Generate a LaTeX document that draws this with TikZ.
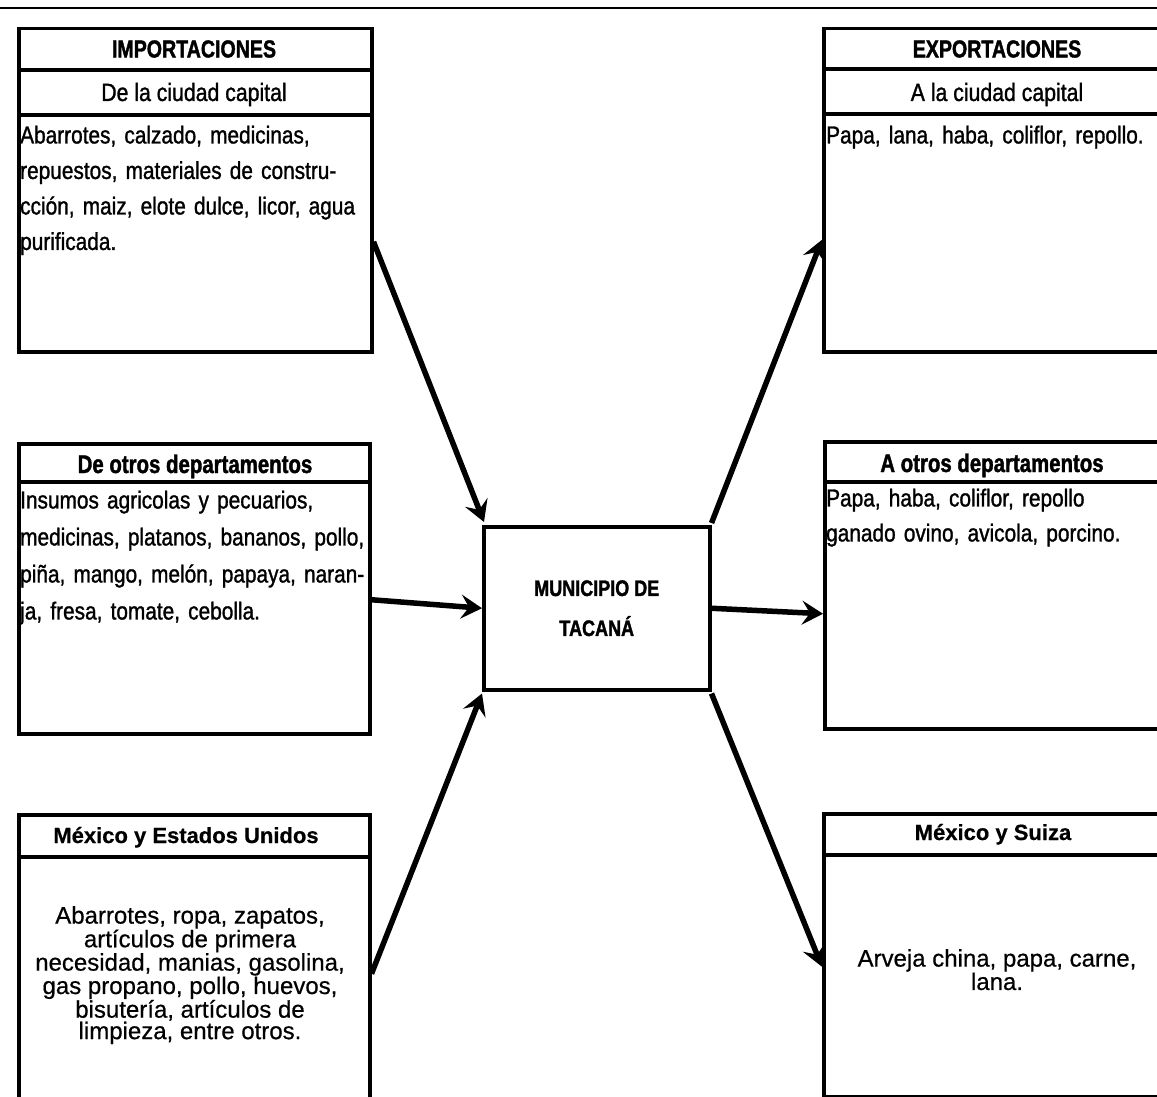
\documentclass[tikz,border=0pt]{standalone}
\usepackage{fontspec}
\setmainfont{Liberation Sans}
\newfontfamily\nrwfont[FakeStretch=0.85,FakeBold=1.2]{Liberation Sans}
\newfontfamily\hdrfont[FakeStretch=0.8,FakeBold=1.5]{Liberation Sans}
\newfontfamily\btmfont[FakeBold=0.6]{Liberation Sans}
\usetikzlibrary{arrows.meta,calc}
\begin{document}
\begin{tikzpicture}[x=1pt,y=-1pt,
  frame/.style={draw, line width=3.5pt, inner sep=0pt, anchor=north west},
  rule/.style={line width=3.5pt},
  flow/.style={line width=5.5pt, -{Stealth[length=21pt,width=24pt,inset=8pt]}},
  hd/.style={inner sep=0pt, font=\hdrfont\bfseries\fontsize{24.5}{28}\selectfont},
  subhd/.style={inner sep=0pt, anchor=base, font=\nrwfont\fontsize{25}{28}\selectfont},
  subhdb/.style={inner sep=0pt, anchor=base, font=\hdrfont\bfseries\fontsize{25.5}{28}\selectfont},
  arialhd/.style={inner sep=0pt, anchor=base, font=\btmfont\bfseries\fontsize{22}{26}\selectfont},
  bodyl/.style={inner sep=0pt, anchor=north west, align=left, text width=345pt},
  bodyc/.style={inner sep=0pt, anchor=north, align=center, font=\btmfont\fontsize{24}{20.3}\selectfont},
]
\path[use as bounding box, fill=white] (0,0) rectangle (1157,1097);

% top rule
\draw[line width=2pt] (0,8) -- (1157,8);

% boxes
\node[frame, minimum width=353pt, minimum height=323pt] (tl) at (17,27) {};
\node[frame, minimum width=348pt, minimum height=323pt] (tr) at (822,27) {};
\node[frame, minimum width=351pt, minimum height=290pt] (ml) at (17,442) {};
\node[frame, minimum width=347pt, minimum height=287pt] (mr) at (823,440) {};
\node[frame, minimum width=351pt, minimum height=290pt] (bl) at (17,813) {};
\node[frame, minimum width=348pt, minimum height=283pt] (br) at (822,812) {};
\node[frame, minimum width=226pt, minimum height=163pt, align=center,
      font=\hdrfont\bfseries\fontsize{22.5}{40}\selectfont] (ctr) at (482,525) {MUNICIPIO DE\\TACANÁ};

% dividers
\draw[rule] ([yshift=-43pt]tl.north west) -- ([yshift=-43pt]tl.north east);
\draw[rule] ([yshift=-88pt]tl.north west) -- ([yshift=-88pt]tl.north east);
\draw[rule] ([yshift=-42pt]tr.north west) -- ([yshift=-42pt]tr.north east);
\draw[rule] ([yshift=-87pt]tr.north west) -- ([yshift=-87pt]tr.north east);
\draw[rule] ([yshift=-40pt]ml.north west) -- ([yshift=-40pt]ml.north east);
\draw[rule] ([yshift=-42pt]mr.north west) -- ([yshift=-42pt]mr.north east);
\draw[rule] ([yshift=-44pt]bl.north west) -- ([yshift=-44pt]bl.north east);
\draw[rule] ([yshift=-43pt]br.north west) -- ([yshift=-43pt]br.north east);

% headers
\node[hd] (tlh) at (194,49) {IMPORTACIONES};
\node[subhd] (tls) at (194,101) {De la ciudad capital};
\node[hd] (trh) at (997,49) {EXPORTACIONES};
\node[subhd] (trs) at (997,101) {A la ciudad capital};
\node[subhdb] (mlh) at (195,473) {De otros departamentos};
\node[subhdb] (mrh) at (992,472) {A otros departamentos};
\node[arialhd] (blh) at (186,843) {México y Estados Unidos};
\node[arialhd] (brh) at (993,840) {México y Suiza};

% bodies
\node[bodyl, font=\nrwfont\fontsize{24.5}{35.5}\selectfont] (tlb) at (20,125.5)
  {Abarrotes, calzado, medicinas,\\repuestos, materiales de constru-\\cción, maiz, elote dulce, licor, agua\\purificada.};
\node[bodyl, font=\nrwfont\fontsize{24.5}{35.5}\selectfont] (trb) at (826,125.5)
  {Papa, lana, haba, coliflor, repollo.};
\node[bodyl, font=\nrwfont\fontsize{24.5}{37}\selectfont] (mlb) at (20,490.5)
  {Insumos agricolas y pecuarios,\\medicinas, platanos, bananos, pollo,\\piña, mango, melón, papaya, naran-\\ja, fresa, tomate, cebolla.};
\node[bodyl, font=\nrwfont\fontsize{24.5}{35}\selectfont] (mrb) at (826,488.5)
  {Papa, haba, coliflor, repollo\\ganado ovino, avicola, porcino.};
\node[bodyc] (blb) at (190,906)
  {Abarrotes, ropa, zapatos,\\artículos de primera\\necesidad, manias, gasolina,\\gas propano, pollo, huevos,\\bisutería, artículos de\\limpieza, entre otros.};
\node[bodyc] (brb) at (997,949)
  {Arveja china, papa, carne,\\lana.};

% connectors
\draw[flow] ([yshift=-51.5pt]tl.east) -- ([xshift=2pt,yshift=3pt]ctr.north west);
\draw[flow] ([yshift=-11pt]ml.east) -- (ctr.west);
\draw[flow] ([yshift=-14pt]bl.east) -- ([yshift=-2pt]ctr.south west);
\draw[flow] ([yshift=2pt]ctr.north east) -- ([yshift=-49.5pt]tr.west);
\draw[flow] (ctr.east) -- ([yshift=-28.5pt]mr.west);
\draw[flow] ([yshift=-2pt]ctr.south east) -- ([yshift=-11.5pt]br.west);
\end{tikzpicture}
\end{document}
